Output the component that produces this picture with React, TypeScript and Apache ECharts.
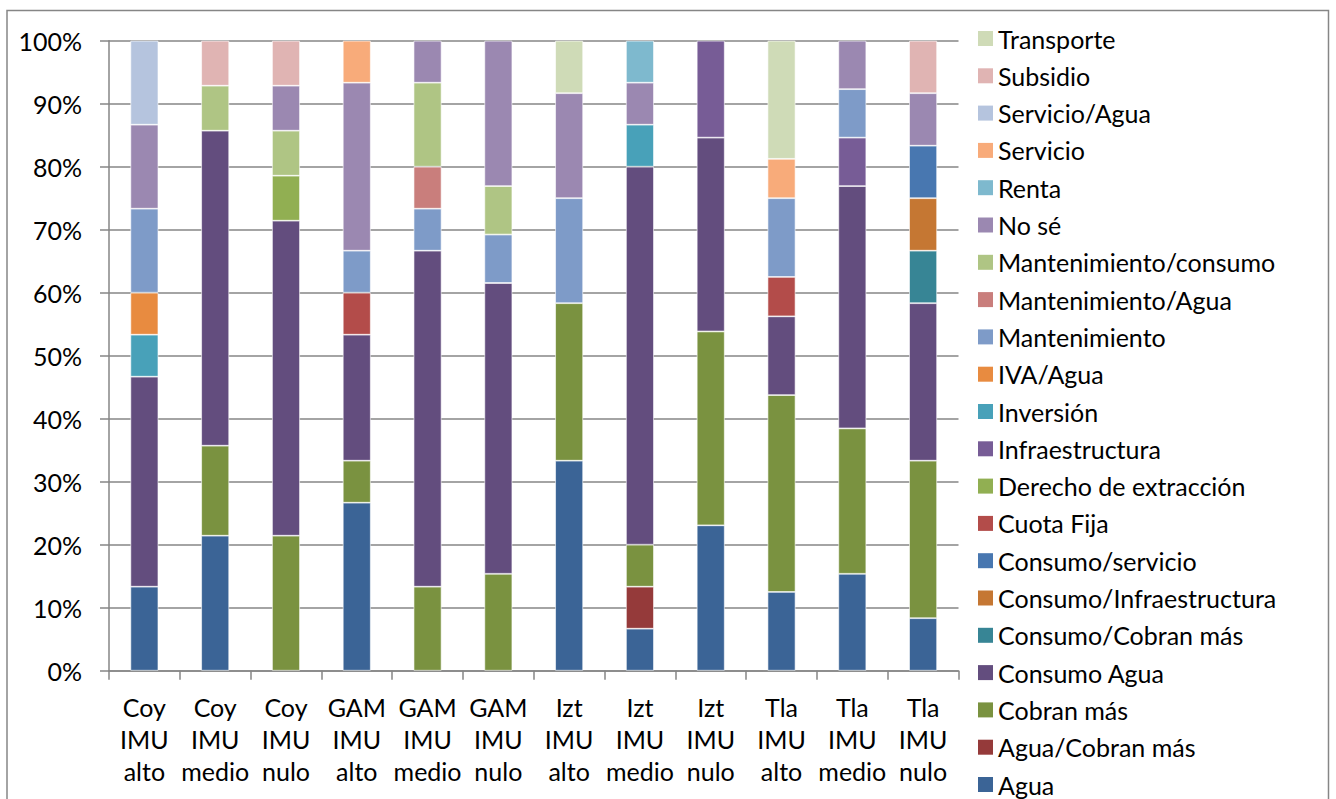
import React, { useEffect, useRef } from "react";
import * as echarts from "echarts";

const categories = [
  "Coy IMU alto", "Coy IMU medio", "Coy IMU nulo",
  "GAM IMU alto", "GAM IMU medio", "GAM IMU nulo",
  "Izt IMU alto", "Izt IMU medio", "Izt IMU nulo",
  "Tla IMU alto", "Tla IMU medio", "Tla IMU nulo",
];

// counts per answer, per category (stacked bottom to top in this order)
const agua = [2, 3, 0, 4, 0, 0, 4, 1, 3, 2, 2, 1];
const aguaCobranMas = [0, 0, 0, 0, 0, 0, 0, 1, 0, 0, 0, 0];
const cobranMas = [0, 2, 3, 1, 2, 2, 3, 1, 4, 5, 3, 3];
const consumoAgua = [5, 7, 7, 3, 8, 6, 0, 9, 4, 2, 5, 3];
const consumoCobranMas = [0, 0, 0, 0, 0, 0, 0, 0, 0, 0, 0, 1];
const consumoInfraestructura = [0, 0, 0, 0, 0, 0, 0, 0, 0, 0, 0, 1];
const consumoServicio = [0, 0, 0, 0, 0, 0, 0, 0, 0, 0, 0, 1];
const cuotaFija = [0, 0, 0, 1, 0, 0, 0, 0, 0, 1, 0, 0];
const derechoExtraccion = [0, 0, 1, 0, 0, 0, 0, 0, 0, 0, 0, 0];
const infraestructura = [0, 0, 0, 0, 0, 0, 0, 0, 2, 0, 1, 0];
const inversion = [1, 0, 0, 0, 0, 0, 0, 1, 0, 0, 0, 0];
const ivaAgua = [1, 0, 0, 0, 0, 0, 0, 0, 0, 0, 0, 0];
const mantenimiento = [2, 0, 0, 1, 1, 1, 2, 0, 0, 2, 1, 0];
const mantenimientoAgua = [0, 0, 0, 0, 1, 0, 0, 0, 0, 0, 0, 0];
const mantenimientoConsumo = [0, 1, 1, 0, 2, 1, 0, 0, 0, 0, 0, 0];
const noSe = [2, 0, 1, 4, 1, 3, 2, 1, 0, 0, 1, 1];
const renta = [0, 0, 0, 0, 0, 0, 0, 1, 0, 0, 0, 0];
const servicio = [0, 0, 0, 1, 0, 0, 0, 0, 0, 1, 0, 0];
const servicioAgua = [2, 0, 0, 0, 0, 0, 0, 0, 0, 0, 0, 0];
const subsidio = [0, 1, 1, 0, 0, 0, 0, 0, 0, 0, 0, 1];
const transporte = [0, 0, 0, 0, 0, 0, 1, 0, 0, 3, 0, 0];

const yTicks = ["0%", "10%", "20%", "30%", "40%", "50%", "60%", "70%", "80%", "90%", "100%"];

const seriesDefs: [string, number[], string][] = [
  ["Agua", agua, "#3B6496"],
  ["Agua/Cobran más", aguaCobranMas, "#953A3A"],
  ["Cobran más", cobranMas, "#7A9240"],
  ["Consumo Agua", consumoAgua, "#634D7E"],
  ["Consumo/Cobran más", consumoCobranMas, "#378595"],
  ["Consumo/Infraestructura", consumoInfraestructura, "#C57733"],
  ["Consumo/servicio", consumoServicio, "#4877B0"],
  ["Cuota Fija", cuotaFija, "#B34C4A"],
  ["Derecho de extracción", derechoExtraccion, "#91AF52"],
  ["Infraestructura", infraestructura, "#775C96"],
  ["Inversión", inversion, "#48A1B9"],
  ["IVA/Agua", ivaAgua, "#E88B40"],
  ["Mantenimiento", mantenimiento, "#7E9BC8"],
  ["Mantenimiento/Agua", mantenimientoAgua, "#C97E7C"],
  ["Mantenimiento/consumo", mantenimientoConsumo, "#AFC584"],
  ["No sé", noSe, "#9B88B1"],
  ["Renta", renta, "#7EB9CE"],
  ["Servicio", servicio, "#F8AB7A"],
  ["Servicio/Agua", servicioAgua, "#B5C4DE"],
  ["Subsidio", subsidio, "#E0B4B3"],
  ["Transporte", transporte, "#CFDBB7"],
];

const FONT = "Lato";
const FS = 25;

export default function App() {
  const ref = useRef<HTMLDivElement>(null);
  useEffect(() => {
    if (!ref.current) return;
    const chart = echarts.init(ref.current, null, { renderer: "svg" });
    const totals = categories.map((_, i) =>
      seriesDefs.reduce((s, d) => s + d[1][i], 0)
    );
    const series = seriesDefs.map(([name, vals, color]) => ({
      name,
      type: "bar",
      stack: "total",
      barWidth: 28,
      data: vals.map((v, i) => (v > 0 ? v / totals[i] : null)),
      itemStyle: { color, borderColor: "rgba(255,255,255,0.75)", borderWidth: 0.8 },
      emphasis: { disabled: true },
    }));
    chart.setOption({
      animation: false,
      backgroundColor: "#fff",
      grid: { left: 109, right: 377.5, top: 40.7, bottom: 128.3, containLabel: false },
      xAxis: {
        type: "category",
        data: categories,
        axisLine: { lineStyle: { color: "#868686", width: 1.5 } },
        axisTick: { show: true, length: 9, alignWithLabel: false, lineStyle: { color: "#868686", width: 1.5 } },
        axisLabel: {
          interval: 0,
          margin: 20,
          color: "#000",
          fontFamily: FONT,
          fontSize: FS,
          lineHeight: 32,
          formatter: (v: string) => v.split(" ").join("\n"),
        },
      },
      yAxis: {
        type: "value",
        min: 0,
        max: 1,
        interval: 0.1,
        axisLine: { show: true, lineStyle: { color: "#868686", width: 1.5 } },
        axisTick: { show: true, length: 9, lineStyle: { color: "#868686", width: 1.5 } },
        splitLine: { show: true, lineStyle: { color: "#868686", width: 1.5 } },
        axisLabel: {
          margin: 27,
          color: "#000",
          fontFamily: FONT,
          fontSize: FS,
          formatter: (v: number) => yTicks[Math.round(v * 10)],
        },
      },
      legend: {
        orient: "vertical",
        left: 978,
        top: 26,
        width: 340,
        height: 790,
        padding: 0,
        itemWidth: 15,
        itemHeight: 15,
        itemGap: 12.3,
        icon: "rect",
        selectedMode: false,
        itemStyle: { borderWidth: 0 },
        textStyle: { fontFamily: FONT, fontSize: FS, color: "#000" },
        data: seriesDefs.map((d) => d[0]).reverse(),
      },
      graphic: [
        {
          type: "rect",
          shape: { x: 7, y: 10.5, width: 1321.5, height: 820 },
          style: { fill: "none", stroke: "#868686", lineWidth: 1.5 },
          silent: true,
        },
      ],
      series,
    });
    return () => chart.dispose();
  }, []);
  return (
    <div
      ref={ref}
      style={{ position: "absolute", left: 0, top: 0, width: 1336, height: 799 }}
    />
  );
}
